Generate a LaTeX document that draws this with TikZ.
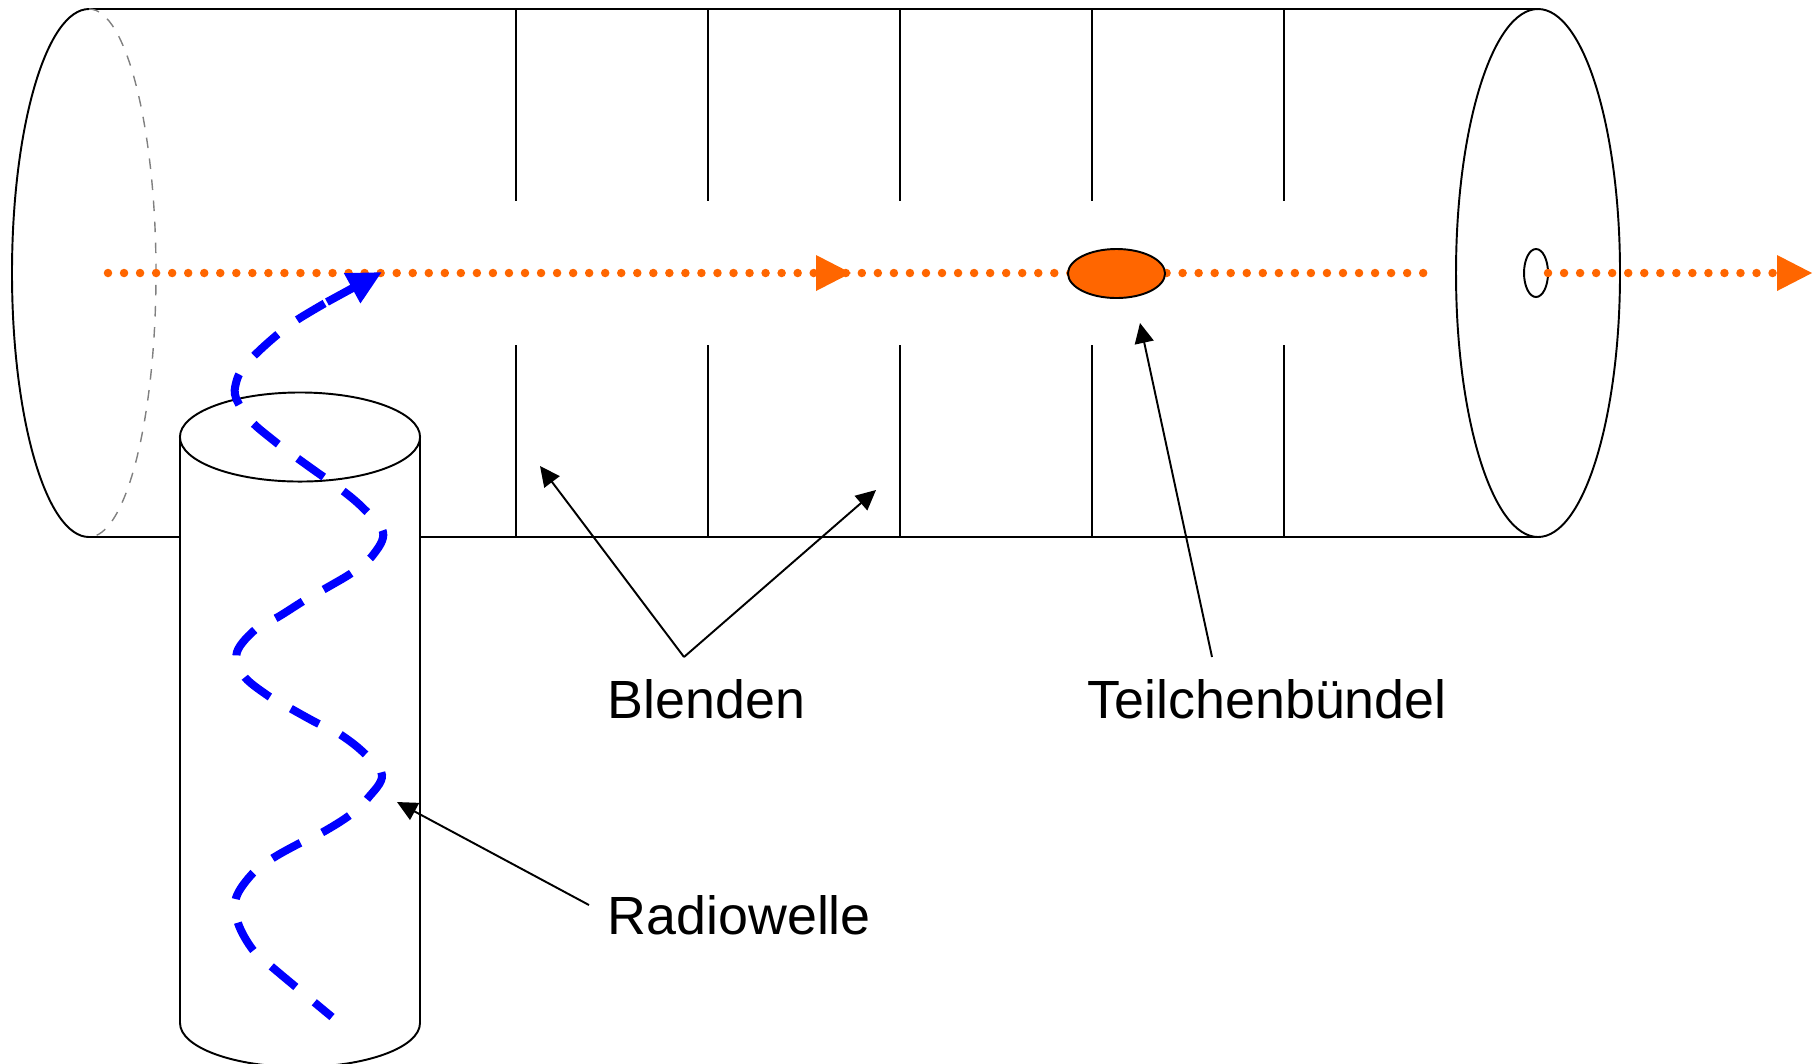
\documentclass[tikz,border=0pt]{standalone}
\usepackage{fontspec}
\setmainfont{Liberation Sans}
\usepackage{tikz}
\usetikzlibrary{arrows.meta,shapes.geometric}
\definecolor{beam}{HTML}{FF6600}
\tikzset{
	thinline/.style={line width=0.55pt,black},
	pointer/.style={thinline,-{Triangle[length=0.2cm,width=0.19cm]}},
	beamline/.style={beam,line width=0.085cm,line cap=round,dash pattern=on 0pt off 0.1603cm},
	wave/.style={blue,line width=0.08cm,dash pattern=on 0.32cm off 0.24cm,dash phase=0.09cm},
	caption/.style={anchor=base west,inner sep=0pt,font=\fontsize{15.3}{18}\selectfont}
}

\begin{document}
\begin{tikzpicture}[x=0.01cm,y=-0.01cm]
	\useasboundingbox (0,0) rectangle (1813,1063);
	% tube
	\draw[thinline] (89,9) -- (1538,9);
	\draw[thinline] (89,537) -- (1538,537);
	\draw[thinline] (89,9) arc[start angle=270,end angle=90,x radius=77,y radius=264];
	\draw[line width=0.4pt,gray,dashed] (89,9) arc[start angle=270,end angle=450,x radius=67,y radius=264];
	\draw[thinline] (1538,273) ellipse[x radius=82,y radius=264];
	\node[draw,thinline,ellipse,minimum width=0.24cm,minimum height=0.48cm,inner sep=0pt] (hole) at (1536,273) {};
	% apertures
	\foreach \Xpos in {516,708,900,1092,1284}
	{
		\draw[thinline] (\Xpos,9) -- (\Xpos,201);
		\draw[thinline] (\Xpos,345) -- (\Xpos,537);
	}
	% beam
	\draw[beamline] (108,273) -- (1424,273);
	\draw[beamline] (1548,273) -- (1775,273);
	\fill[beam] (816,255) -- (851,273) -- (816,291) -- cycle;
	\fill[beam] (1777,255) -- (1812,273) -- (1777,291) -- cycle;
	\node[draw,thinline,fill=beam,ellipse,minimum width=0.97cm,minimum height=0.49cm,inner sep=0pt] (bunch) at (1116.5,273.5) {};
	% wave guide
	\draw[thinline,fill=white] (180,437) -- (180,1023) arc[start angle=180,end angle=0,x radius=120,y radius=44] -- (420,437);
	\node[draw,thinline,fill=white,ellipse,minimum width=2.4cm,minimum height=0.89cm,inner sep=0pt] (top) at (300,437) {};
	\draw[wave] plot[smooth,tension=0.6] coordinates {(332,1017) (272,967) (253,950) (238,923) (236,898) (253,873) (273,858) (300,843) (323,832) (350,815) (368,798) (382,775) (363,752) (338,733) (317,723) (288,707) (267,695) (243,675) (237,652) (257,628) (278,617) (305,600) (328,587) (353,572) (373,555) (383,532) (362,507) (338,487) (318,473) (293,455) (273,440) (250,420) (236,398) (236,383) (243,368) (260,350) (283,330) (300,318) (327,302)};
	\draw[blue,line width=0.08cm,-{Triangle[length=0.34cm,width=0.32cm]}] (327,302) -- (382,272);
	% labels
	\node[caption] (blenden) at (607,718) {Blenden};
	\node[caption] (bundle) at (1087,718) {Teilchenbündel};
	\node[caption] (radio) at (607,934) {Radiowelle};
	\coordinate (blendenroot) at (684,657);
	\coordinate (bundleroot) at (1212,657);
	\coordinate (radioroot) at (589,905);
	\coordinate (baffleA) at (540,466);
	\coordinate (baffleB) at (876,490);
	\coordinate (bunchtip) at (1140,323);
	\coordinate (wavetip) at (397,802);
	\draw[pointer] (blendenroot) -- (baffleA);
	\draw[pointer] (blendenroot) -- (baffleB);
	\draw[pointer] (bundleroot) -- (bunchtip);
	\draw[pointer] (radioroot) -- (wavetip);
\end{tikzpicture}
\end{document}
